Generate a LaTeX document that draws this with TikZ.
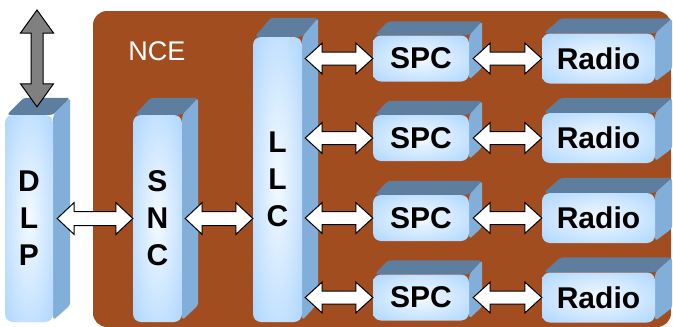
\documentclass[tikz,border=0pt]{standalone}
\usepackage{fontspec}
\setmainfont{Liberation Sans}
\usetikzlibrary{calc}
\definecolor{brownbg}{HTML}{A14D1F}
\definecolor{frontc}{HTML}{99CCFF}
\definecolor{glowc}{HTML}{F4FAFF}
\definecolor{midc}{HTML}{CDE6FF}
\definecolor{topc}{HTML}{5E7EA0}
\definecolor{sidec}{HTML}{82AEDA}
\definecolor{grayarrow}{HTML}{808080}
\pgfdeclareradialshading{glow}{\pgfpoint{0bp}{0bp}}{color(0bp)=(glowc); color(20bp)=(midc); color(45bp)=(frontc); color(50bp)=(frontc)}
\pgfdeclarelayer{bg}
\pgfdeclarelayer{back}
\pgfsetlayers{bg,back,main}
\tikzset{
  face/.style={shading=glow, rounded corners=8pt, inner sep=0pt, align=center,
    font=\fontsize{30}{37}\selectfont\bfseries},
  arr/.style={draw=black, fill=white, line width=1pt, line join=miter},
  garr/.style={draw=black, fill=grayarrow, line width=1pt, line join=miter},
  topface/.style={fill=topc, rounded corners=3pt},
  sideface/.style={fill=sidec, rounded corners=3pt}
}
\newcommand\depthfaces[3]{%
  \begin{pgfonlayer}{back}
  \fill[topface] ($(#1.north west)+(2,0)$) -- ++(#2,-#3) -- ($(#1.north east)+(#2,-#3)$) -- (#1.north east) -- cycle;
  \fill[sideface] (#1.north east) -- ($(#1.north east)+(#2,-#3)$) -- ($(#1.south east)+(#2,-#3)$) -- ($(#1.south east)+(0,-2)$) -- cycle;
  \end{pgfonlayer}}
\newcommand\harrow[4]{%
  \draw[arr] let \p1=(#1), \p2=(#2) in
    (\x1,\y1) -- (\x1+17pt,\y1+#3) -- (\x1+17pt,\y1+#4) -- (\x2-17pt,\y1+#4) -- (\x2-17pt,\y1+#3)
    -- (\x2,\y1) -- (\x2-17pt,\y1-#3) -- (\x2-17pt,\y1-#4) -- (\x1+17pt,\y1-#4) -- (\x1+17pt,\y1-#3) -- cycle;}
\newcommand\varrow[2]{%
  \draw[garr] let \p1=(#1), \p2=(#2) in
    (\x1,\y1) -- (\x1+16.5pt,\y1-23pt) -- (\x1+6pt,\y1-23pt) -- (\x1+6pt,\y2+23pt) -- (\x1+16.5pt,\y2+23pt)
    -- (\x1,\y2) -- (\x1-16.5pt,\y2+23pt) -- (\x1-6pt,\y2+23pt) -- (\x1-6pt,\y1-23pt) -- (\x1-16.5pt,\y1-23pt) -- cycle;}
\begin{document}
\begin{tikzpicture}[x=1pt, y=-1pt]
\useasboundingbox (0,0) rectangle (673,327);
\begin{pgfonlayer}{bg}
  \fill[brownbg, rounded corners=14pt] (93,11) rectangle (671,327);
\end{pgfonlayer}
\node[text=white, font=\fontsize{27}{32}\selectfont] (nce) at (157,51) {NCE};

% bars
\node[face, minimum width=48pt, minimum height=207pt] (DLP) at (29,218.5) {D\\L\\P};
\node[face, minimum width=49pt, minimum height=207pt] (SNC) at (157.5,218.5) {S\\N\\C};
\node[face, minimum width=49pt, minimum height=285pt] (LLC) at (277.5,179.5) {L\\L\\C};
\depthfaces{DLP}{17}{17}
\depthfaces{SNC}{16}{17}
\depthfaces{LLC}{16}{19}

% SPC and Radio boxes
\foreach \i/\yy in {1/58.5,2/138,3/218,4/297.5}{
  \node[face, minimum width=96pt, minimum height=46pt] (SPC\i) at (421,\yy) {SPC};
  \node[face, minimum width=113pt, minimum height=50pt] (R\i) at (598.5,\yy) {Radio};
  \depthfaces{SPC\i}{13}{14}
  \depthfaces{R\i}{17}{15}
}

% arrows
\coordinate (ext) at (37,10);
\varrow{ext}{$(DLP.north)+(8,-8)$}
\harrow{$(DLP.east)+(4,0)$}{SNC.west}{16pt}{7pt}
\harrow{$(SNC.east)+(3,0)$}{$(SNC.east -| LLC.west)$}{16pt}{7pt}
\foreach \i in {1,2,3,4}{
  \coordinate (l\i) at (LLC.east |- SPC\i.west);
  \harrow{$(l\i)+(3,0)$}{SPC\i.west}{15.5pt}{6.5pt}
  \harrow{$(SPC\i.east)+(4,0)$}{R\i.west}{15.5pt}{6.5pt}
}
\end{tikzpicture}
\end{document}
